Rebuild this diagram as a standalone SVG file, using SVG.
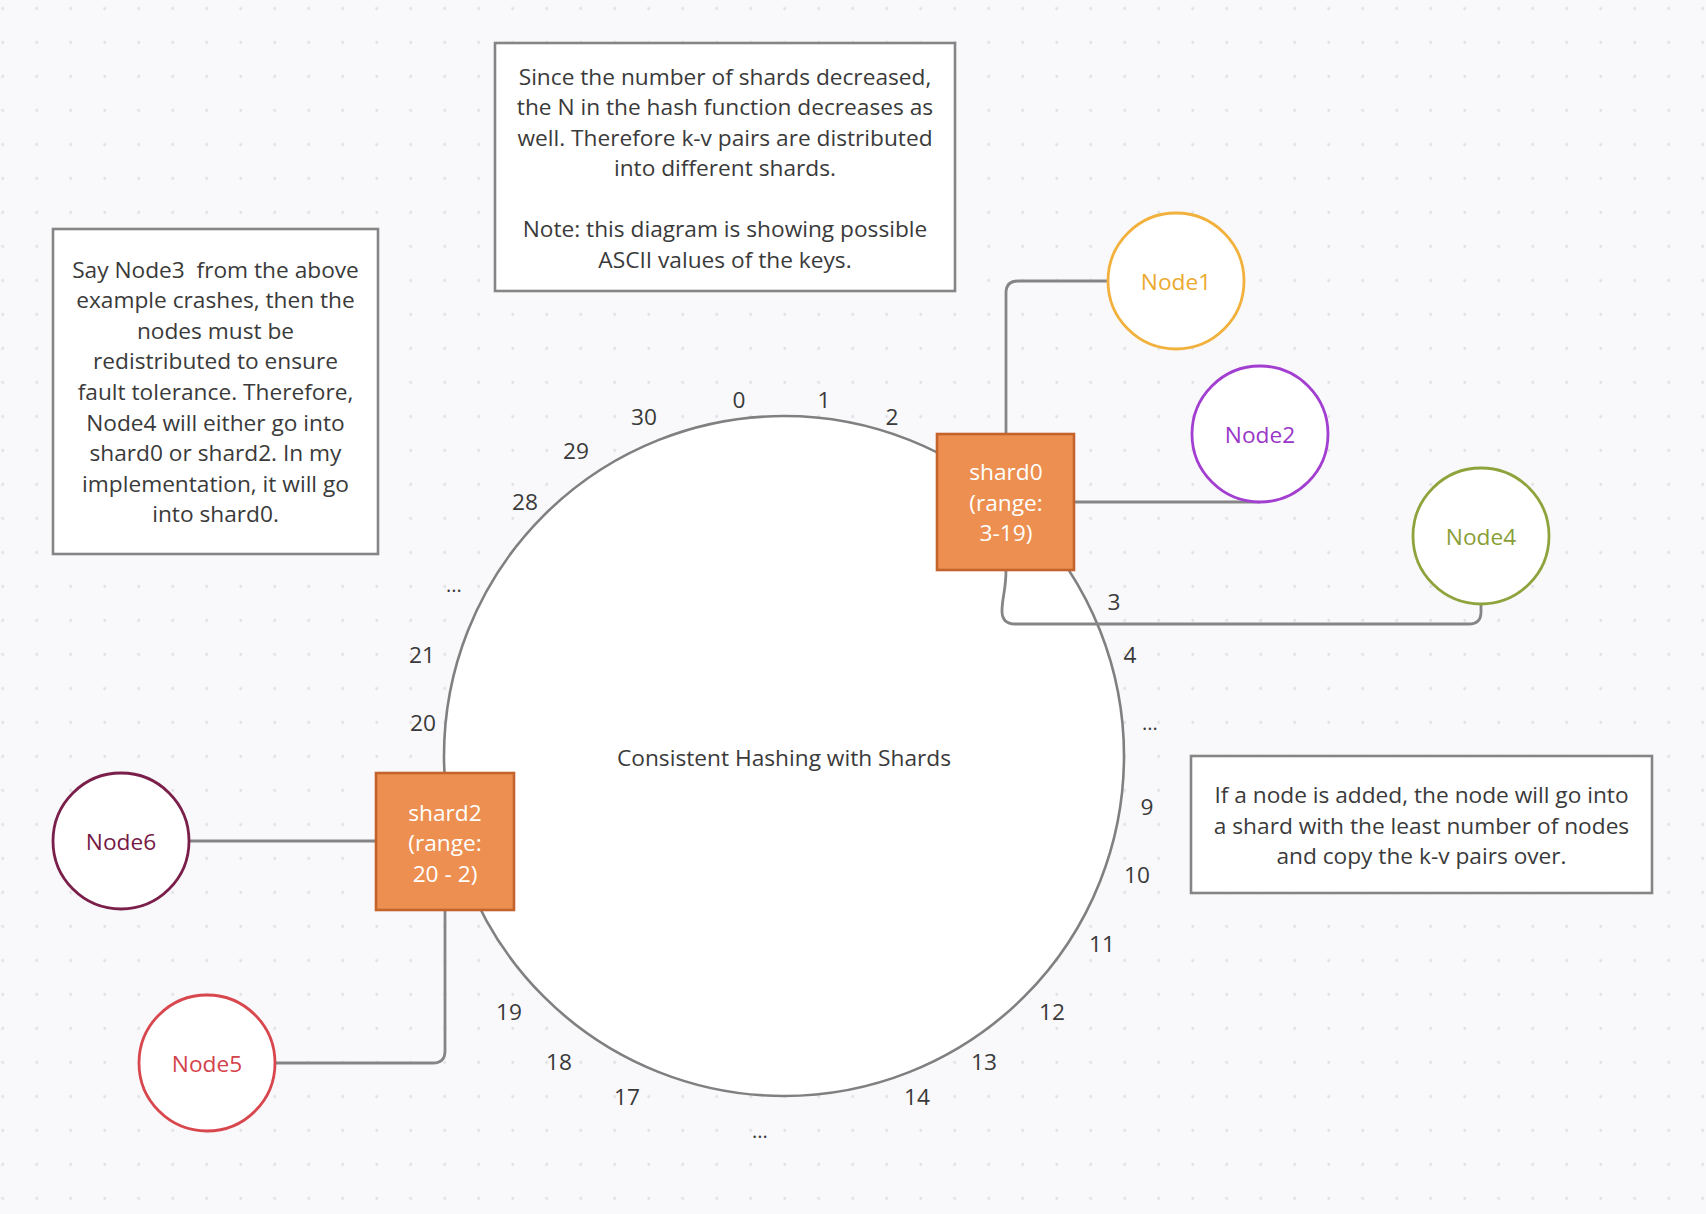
<svg xmlns="http://www.w3.org/2000/svg" width="1706" height="1214" viewBox="0 0 1706 1214">
<defs>
<pattern id="dots" patternUnits="userSpaceOnUse" x="-14.3" y="-8.5" width="34" height="34">
<circle cx="17" cy="17" r="1.4" fill="#dcdce2"/>
</pattern>
<style>
text{font-family:"Open Sans","Noto Sans","DejaVu Sans",sans-serif;font-size:22.7px;fill:#3a3a3a;text-anchor:middle;dominant-baseline:central}
.note{fill:#ffffff;stroke:#858585;stroke-width:2.6}
.conn{fill:none;stroke:#858585;stroke-width:2.8}
.ring{fill:#ffffff;stroke:#808080;stroke-width:2.6}
.shardbox{fill:#ec8f50;stroke:#c4642c;stroke-width:2.6}
.shardtxt{fill:#ffffff}
.node{fill:#ffffff;stroke-width:2.8}
.dots{font-size:20px}
</style>
</defs>
<rect x="0" y="0" width="1706" height="1214" fill="#f9f9fb"/>
<rect x="0" y="0" width="1706" height="1214" fill="url(#dots)"/>

<g id="ring">
<circle class="ring" cx="784" cy="756" r="340"/>
<text x="784" y="757">Consistent Hashing with Shards</text>
</g>

<g id="ring-labels">
<text x="739" y="399">0</text>
<text x="824" y="399">1</text>
<text x="892" y="416">2</text>
<text x="1114" y="601">3</text>
<text x="1130" y="654">4</text>
<text class="dots" x="1150" y="722">...</text>
<text x="1147" y="806">9</text>
<text x="1137" y="874">10</text>
<text x="1102" y="943">11</text>
<text x="1052" y="1011">12</text>
<text x="984" y="1061">13</text>
<text x="917" y="1096">14</text>
<text class="dots" x="760" y="1130">...</text>
<text x="627" y="1096">17</text>
<text x="559" y="1061">18</text>
<text x="509" y="1011">19</text>
<text x="423" y="722">20</text>
<text x="422" y="654">21</text>
<text class="dots" x="454" y="584">...</text>
<text x="525" y="501">28</text>
<text x="576" y="450">29</text>
<text x="644" y="416">30</text>
</g>

<g id="note-top">
<rect class="note" x="495" y="43" width="460" height="248"/>
<text x="725" y="76">Since the number of shards decreased,</text>
<text x="725" y="106">the N in the hash function decreases as</text>
<text x="725" y="137">well. Therefore k-v pairs are distributed</text>
<text x="725" y="167">into different shards.</text>
<text x="725" y="228">Note: this diagram is showing possible</text>
<text x="725" y="259">ASCII values of the keys.</text>
</g>

<g id="note-left">
<rect class="note" x="53" y="229" width="325" height="325"/>
<text x="215.5" y="269">Say Node3&#160; from the above</text>
<text x="215.5" y="299">example crashes, then the</text>
<text x="215.5" y="330">nodes must be</text>
<text x="215.5" y="360">redistributed to ensure</text>
<text x="215.5" y="391">fault tolerance. Therefore,</text>
<text x="215.5" y="422">Node4 will either go into</text>
<text x="215.5" y="452">shard0 or shard2. In my</text>
<text x="215.5" y="483">implementation, it will go</text>
<text x="215.5" y="513">into shard0.</text>
</g>

<g id="note-right">
<rect class="note" x="1191" y="756" width="461" height="137"/>
<text x="1421.5" y="794">If a node is added, the node will go into</text>
<text x="1421.5" y="825">a shard with the least number of nodes</text>
<text x="1421.5" y="855">and copy the k-v pairs over.</text>
</g>

<g id="connectors">
<path class="conn" d="M1006,434 L1006,293 Q1006,281 1018,281 L1108,281"/>
<path class="conn" d="M1074,502 L1260,502"/>
<path class="conn" d="M1006,570 C1006,590 1002,598 1002,611 Q1002,624 1015,624 L1469,624 Q1481,624 1481,612 L1481,604"/>
<path class="conn" d="M189,841 L375,841"/>
<path class="conn" d="M445,910 L445,1051 Q445,1063 433,1063 L275,1063"/>
</g>

<g id="shard0">
<rect class="shardbox" x="937" y="434" width="137" height="136"/>
<text class="shardtxt" x="1006" y="471">shard0</text>
<text class="shardtxt" x="1006" y="502">(range:</text>
<text class="shardtxt" x="1006" y="532">3-19)</text>
</g>

<g id="shard2">
<rect class="shardbox" x="376" y="773" width="138" height="137"/>
<text class="shardtxt" x="445" y="812">shard2</text>
<text class="shardtxt" x="445" y="842">(range:</text>
<text class="shardtxt" x="445" y="873">20 - 2)</text>
</g>

<g id="node1">
<circle class="node" cx="1176" cy="281" r="68" stroke="#f1b13c"/>
<text x="1176" y="281" style="fill:#eba92e">Node1</text>
</g>
<g id="node2">
<circle class="node" cx="1260" cy="434" r="68" stroke="#a23fd0"/>
<text x="1260" y="434" style="fill:#9a36c8">Node2</text>
</g>
<g id="node4">
<circle class="node" cx="1481" cy="536" r="68" stroke="#8fa33d"/>
<text x="1481" y="536" style="fill:#8a9e38">Node4</text>
</g>
<g id="node6">
<circle class="node" cx="121" cy="841" r="68" stroke="#7a1f4a"/>
<text x="121" y="841" style="fill:#761a45">Node6</text>
</g>
<g id="node5">
<circle class="node" cx="207" cy="1063" r="68" stroke="#d8464e"/>
<text x="207" y="1063" style="fill:#d3424a">Node5</text>
</g>
</svg>
